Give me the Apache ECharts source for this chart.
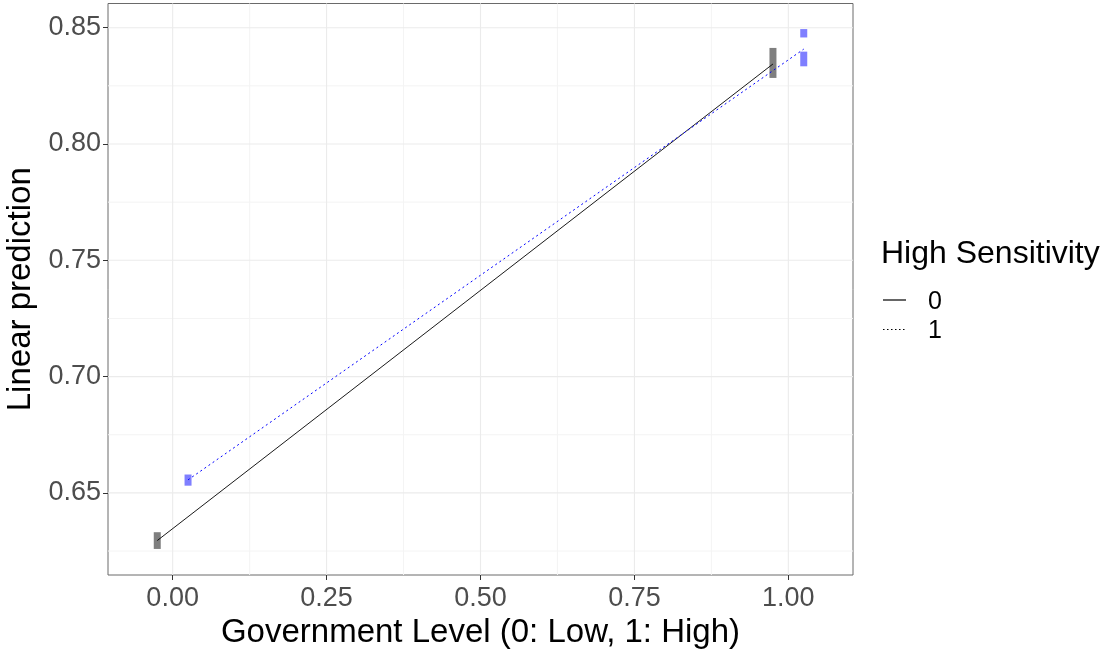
<!DOCTYPE html>
<html>
<head>
<meta charset="utf-8">
<script src="https://cdn.jsdelivr.net/npm/echarts@6/dist/echarts.min.js"></script>
<style>
  html, body { margin: 0; padding: 0; background: #ffffff; }
  #chart { width: 1110px; height: 650px; }
</style>
</head>
<body>
<div id="chart"></div>
<script>
// Sensitivity groups and their dodged x positions
const groupNames = ['0', '1'];
const xPos0 = [-0.025, 0.975];
const xPos1 = [0.025, 1.025];
// Linear predictions (point estimates)
const estimate0 = [0.6295, 0.8344];
const estimate1 = [0.6556, 0.8408];
// Interval pieces: [x, low, high]
const band0 = [[-0.025, 0.6259, 0.6331], [0.975, 0.8284, 0.8413]];
const band1 = [[0.025, 0.6531, 0.6579], [1.025, 0.8334, 0.8397], [1.025, 0.8458, 0.8494]];
// Axis breaks
const xMajor = [0, 0.25, 0.5, 0.75, 1];
const xMinor = [0.125, 0.375, 0.625, 0.875];
const yMajor = [0.65, 0.70, 0.75, 0.80, 0.85];
const yMinor = [0.625, 0.675, 0.725, 0.775, 0.825];

const FONT = '"Liberation Sans", Arial, sans-serif';

const chart = echarts.init(document.getElementById('chart'), null, { renderer: 'canvas' });

const gridItems = [];
xMinor.forEach(v => gridItems.push(['x', v, 0]));
yMinor.forEach(v => gridItems.push(['y', v, 0]));
xMajor.forEach(v => gridItems.push(['x', v, 1]));
yMajor.forEach(v => gridItems.push(['y', v, 1]));

function renderGridLine(params, api) {
  const cs = params.coordSys;
  const kind = gridItems[params.dataIndex][0];
  const v = api.value(1);
  const major = api.value(2) === 1;
  let shape;
  if (kind === 'x') {
    const px = api.coord([v, 0.7])[0];
    shape = { x1: px, y1: cs.y, x2: px, y2: cs.y + cs.height };
  } else {
    const py = api.coord([0.5, v])[1];
    shape = { x1: cs.x, y1: py, x2: cs.x + cs.width, y2: py };
  }
  return {
    type: 'line',
    shape: shape,
    style: { stroke: major ? '#ebebeb' : '#f4f4f4', lineWidth: major ? 1.1 : 1 }
  };
}

function bandRenderer(fill) {
  return function (params, api) {
    const x = api.value(0);
    const top = api.coord([x, api.value(2)]);
    const bottom = api.coord([x, api.value(1)]);
    return {
      type: 'rect',
      shape: { x: top[0] - 3.5, y: top[1], width: 7, height: bottom[1] - top[1] },
      style: { fill: fill }
    };
  };
}

// Legend keys: one short line per group, styled like its series
const legendX = 883, legendKeyLen = 23;
const legendRows = [300, 329.5];

const option = {
  backgroundColor: '#ffffff',
  animation: false,
  grid: {
    left: 108, right: 257, top: 3.5, bottom: 75,
    containLabel: false, outerBoundsMode: 'none',
    show: true, borderColor: '#6a6a6a', borderWidth: 1, backgroundColor: 'transparent'
  },
  xAxis: {
    type: 'value', min: -0.105, max: 1.105,
    name: 'Government Level (0: Low, 1: High)',
    nameLocation: 'middle', nameGap: 40,
    nameTextStyle: { fontFamily: FONT, fontSize: 33, color: '#000000' },
    axisLine: { show: false, onZero: false },
    splitLine: { show: false },
    axisTick: { show: true, customValues: xMajor, length: 5, lineStyle: { color: '#333333' } },
    axisLabel: {
      customValues: xMajor, margin: 10,
      formatter: v => v.toFixed(2),
      fontFamily: FONT, fontSize: 27, color: '#4d4d4d'
    }
  },
  yAxis: {
    type: 'value', min: 0.6147, max: 0.8604,
    name: 'Linear prediction',
    nameLocation: 'middle', nameGap: 64,
    nameTextStyle: { fontFamily: FONT, fontSize: 33, color: '#000000' },
    axisLine: { show: false, onZero: false },
    splitLine: { show: false },
    axisTick: { show: true, customValues: yMajor, length: 5, lineStyle: { color: '#333333' } },
    axisLabel: {
      customValues: yMajor, margin: 7,
      formatter: v => v.toFixed(2),
      fontFamily: FONT, fontSize: 27, color: '#4d4d4d'
    }
  },
  graphic: [
    {
      type: 'text', left: 881, top: 238,
      style: { text: 'High Sensitivity', font: '32px ' + FONT, fill: '#000000' }
    },
    {
      type: 'line', silent: true,
      shape: { x1: legendX, y1: legendRows[0], x2: legendX + legendKeyLen, y2: legendRows[0] },
      style: { stroke: '#000000', lineWidth: 1.2 }
    },
    {
      type: 'line', silent: true,
      shape: { x1: legendX, y1: legendRows[1], x2: legendX + legendKeyLen, y2: legendRows[1] },
      style: { stroke: '#000000', lineWidth: 1.2, lineDash: [1.5, 2.5] }
    },
    {
      type: 'text', x: 928, y: legendRows[0] + 2,
      style: { text: groupNames[0], font: '25px ' + FONT, fill: '#000000', verticalAlign: 'middle' }
    },
    {
      type: 'text', x: 928, y: legendRows[1] + 2,
      style: { text: groupNames[1], font: '25px ' + FONT, fill: '#000000', verticalAlign: 'middle' }
    }
  ],
  series: [
    {
      name: 'grid', type: 'custom', silent: true, z: 0,
      renderItem: renderGridLine,
      data: gridItems,
      encode: { x: 1 }
    },
    {
      name: 'band0', type: 'custom', silent: true, z: 2,
      renderItem: bandRenderer('rgba(0,0,0,0.5)'),
      data: band0
    },
    {
      name: 'band1', type: 'custom', silent: true, z: 2,
      renderItem: bandRenderer('rgba(0,0,255,0.5)'),
      data: band1
    },
    {
      name: groupNames[0], type: 'line', z: 3,
      data: xPos0.map((x, i) => [x, estimate0[i]]),
      symbol: 'none', color: '#000000',
      lineStyle: { color: '#000000', width: 0.9, type: 'solid' }
    },
    {
      name: groupNames[1], type: 'line', z: 3,
      data: xPos1.map((x, i) => [x, estimate1[i]]),
      symbol: 'none', color: '#0000ff',
      lineStyle: { color: '#0000ff', width: 1, type: [2, 3] }
    }
  ]
};

chart.setOption(option);
</script>
</body>
</html>
